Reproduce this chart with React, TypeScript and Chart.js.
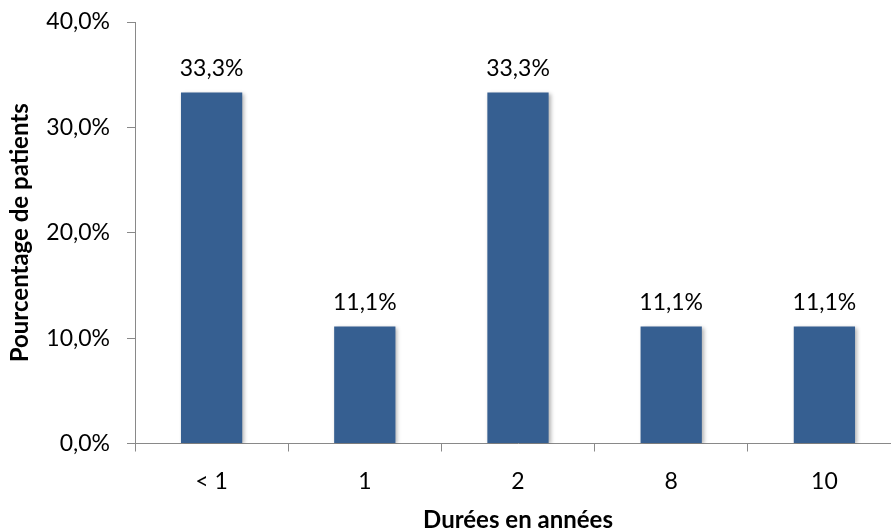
import React, { useEffect, useRef } from "react";
import { Chart, registerables } from "chart.js";

Chart.register(...registerables);

const categories = ["< 1", "1", "2", "8", "10"];
const percentages = [33.3, 11.1, 33.3, 11.1, 11.1];
const yTicks = [0, 10, 20, 30, 40];

const FONT = "Lato, 'Liberation Sans', sans-serif";
const BAR_COLOR = "#365F91";
const AXIS_COLOR = "#898989";
const TICK_SIZE = 23;
const TITLE_SIZE = 24;

const fmt = (v: number) => v.toFixed(1).replace(".", ",") + "%";

const valueLabels = {
  id: "valueLabels",
  afterDatasetsDraw(chart: any) {
    const ctx = chart.ctx;
    const meta = chart.getDatasetMeta(0);
    ctx.save();
    ctx.font = `${TICK_SIZE}px ${FONT}`;
    ctx.fillStyle = "#000";
    ctx.textAlign = "center";
    ctx.textBaseline = "alphabetic";
    meta.data.forEach((bar: any, i: number) => {
      ctx.fillText(fmt(percentages[i]), bar.x, bar.y - 17);
    });
    ctx.restore();
  },
};

const barShadow = {
  id: "barShadow",
  beforeDatasetsDraw(chart: any) {
    const ctx = chart.ctx;
    ctx.save();
    ctx.shadowColor = "rgba(0,0,0,0.3)";
    ctx.shadowBlur = 4;
    ctx.shadowOffsetX = 2;
    ctx.shadowOffsetY = 1;
  },
  afterDatasetsDraw(chart: any) {
    chart.ctx.restore();
  },
};

export default function App() {
  const ref = useRef<HTMLCanvasElement>(null);

  useEffect(() => {
    document.body.style.margin = "0";
    const chart = new Chart(ref.current!, {
      type: "bar",
      data: {
        labels: categories,
        datasets: [
          {
            data: percentages,
            backgroundColor: BAR_COLOR,
            barPercentage: 0.4,
            categoryPercentage: 1,
          },
        ],
      },
      options: {
        animation: false,
        responsive: false,
        layout: { padding: { top: 22, right: 0, left: 0, bottom: 0 } },
        plugins: { legend: { display: false }, tooltip: { enabled: false } },
        scales: {
          x: {
            grid: {
              drawOnChartArea: false,
              drawTicks: true,
              tickLength: 8,
              color: AXIS_COLOR,
              offset: true,
            },
            border: { color: AXIS_COLOR, width: 1 },
            ticks: {
              color: "#000",
              font: { family: FONT, size: TICK_SIZE },
              padding: 16,
            },
            title: {
              display: true,
              text: "Durées en années",
              color: "#000",
              font: { family: FONT, size: TITLE_SIZE, weight: "bold" },
              padding: { top: 0, bottom: -5 },
            },
            afterFit(scale: any) {
              scale.height = 530 - 443.5;
            },
          },
          y: {
            min: 0,
            max: 40,
            afterBuildTicks(scale: any) {
              scale.ticks = yTicks.map((v) => ({ value: v }));
            },
            grid: {
              drawOnChartArea: false,
              drawTicks: true,
              tickLength: 8,
              color: AXIS_COLOR,
            },
            border: { color: AXIS_COLOR, width: 1 },
            ticks: {
              color: "#000",
              font: { family: FONT, size: TICK_SIZE },
              padding: 17,
              callback: (v: any) => fmt(Number(v)),
            },
            title: {
              display: true,
              text: "Pourcentage de patients",
              color: "#000",
              font: { family: FONT, size: TITLE_SIZE, weight: "bold" },
              padding: { top: 6, bottom: 0 },
            },
            afterFit(scale: any) {
              scale.width = 135;
              scale.paddingTop = 0;
              scale.paddingBottom = 0;
            },
          },
        },
      },
      plugins: [barShadow, valueLabels],
    });
    return () => chart.destroy();
  }, []);

  return (
    <div style={{ position: "relative", width: 891, height: 530, overflow: "hidden" }}>
      <canvas ref={ref} width={901} height={530} style={{ display: "block" }} />
    </div>
  );
}
